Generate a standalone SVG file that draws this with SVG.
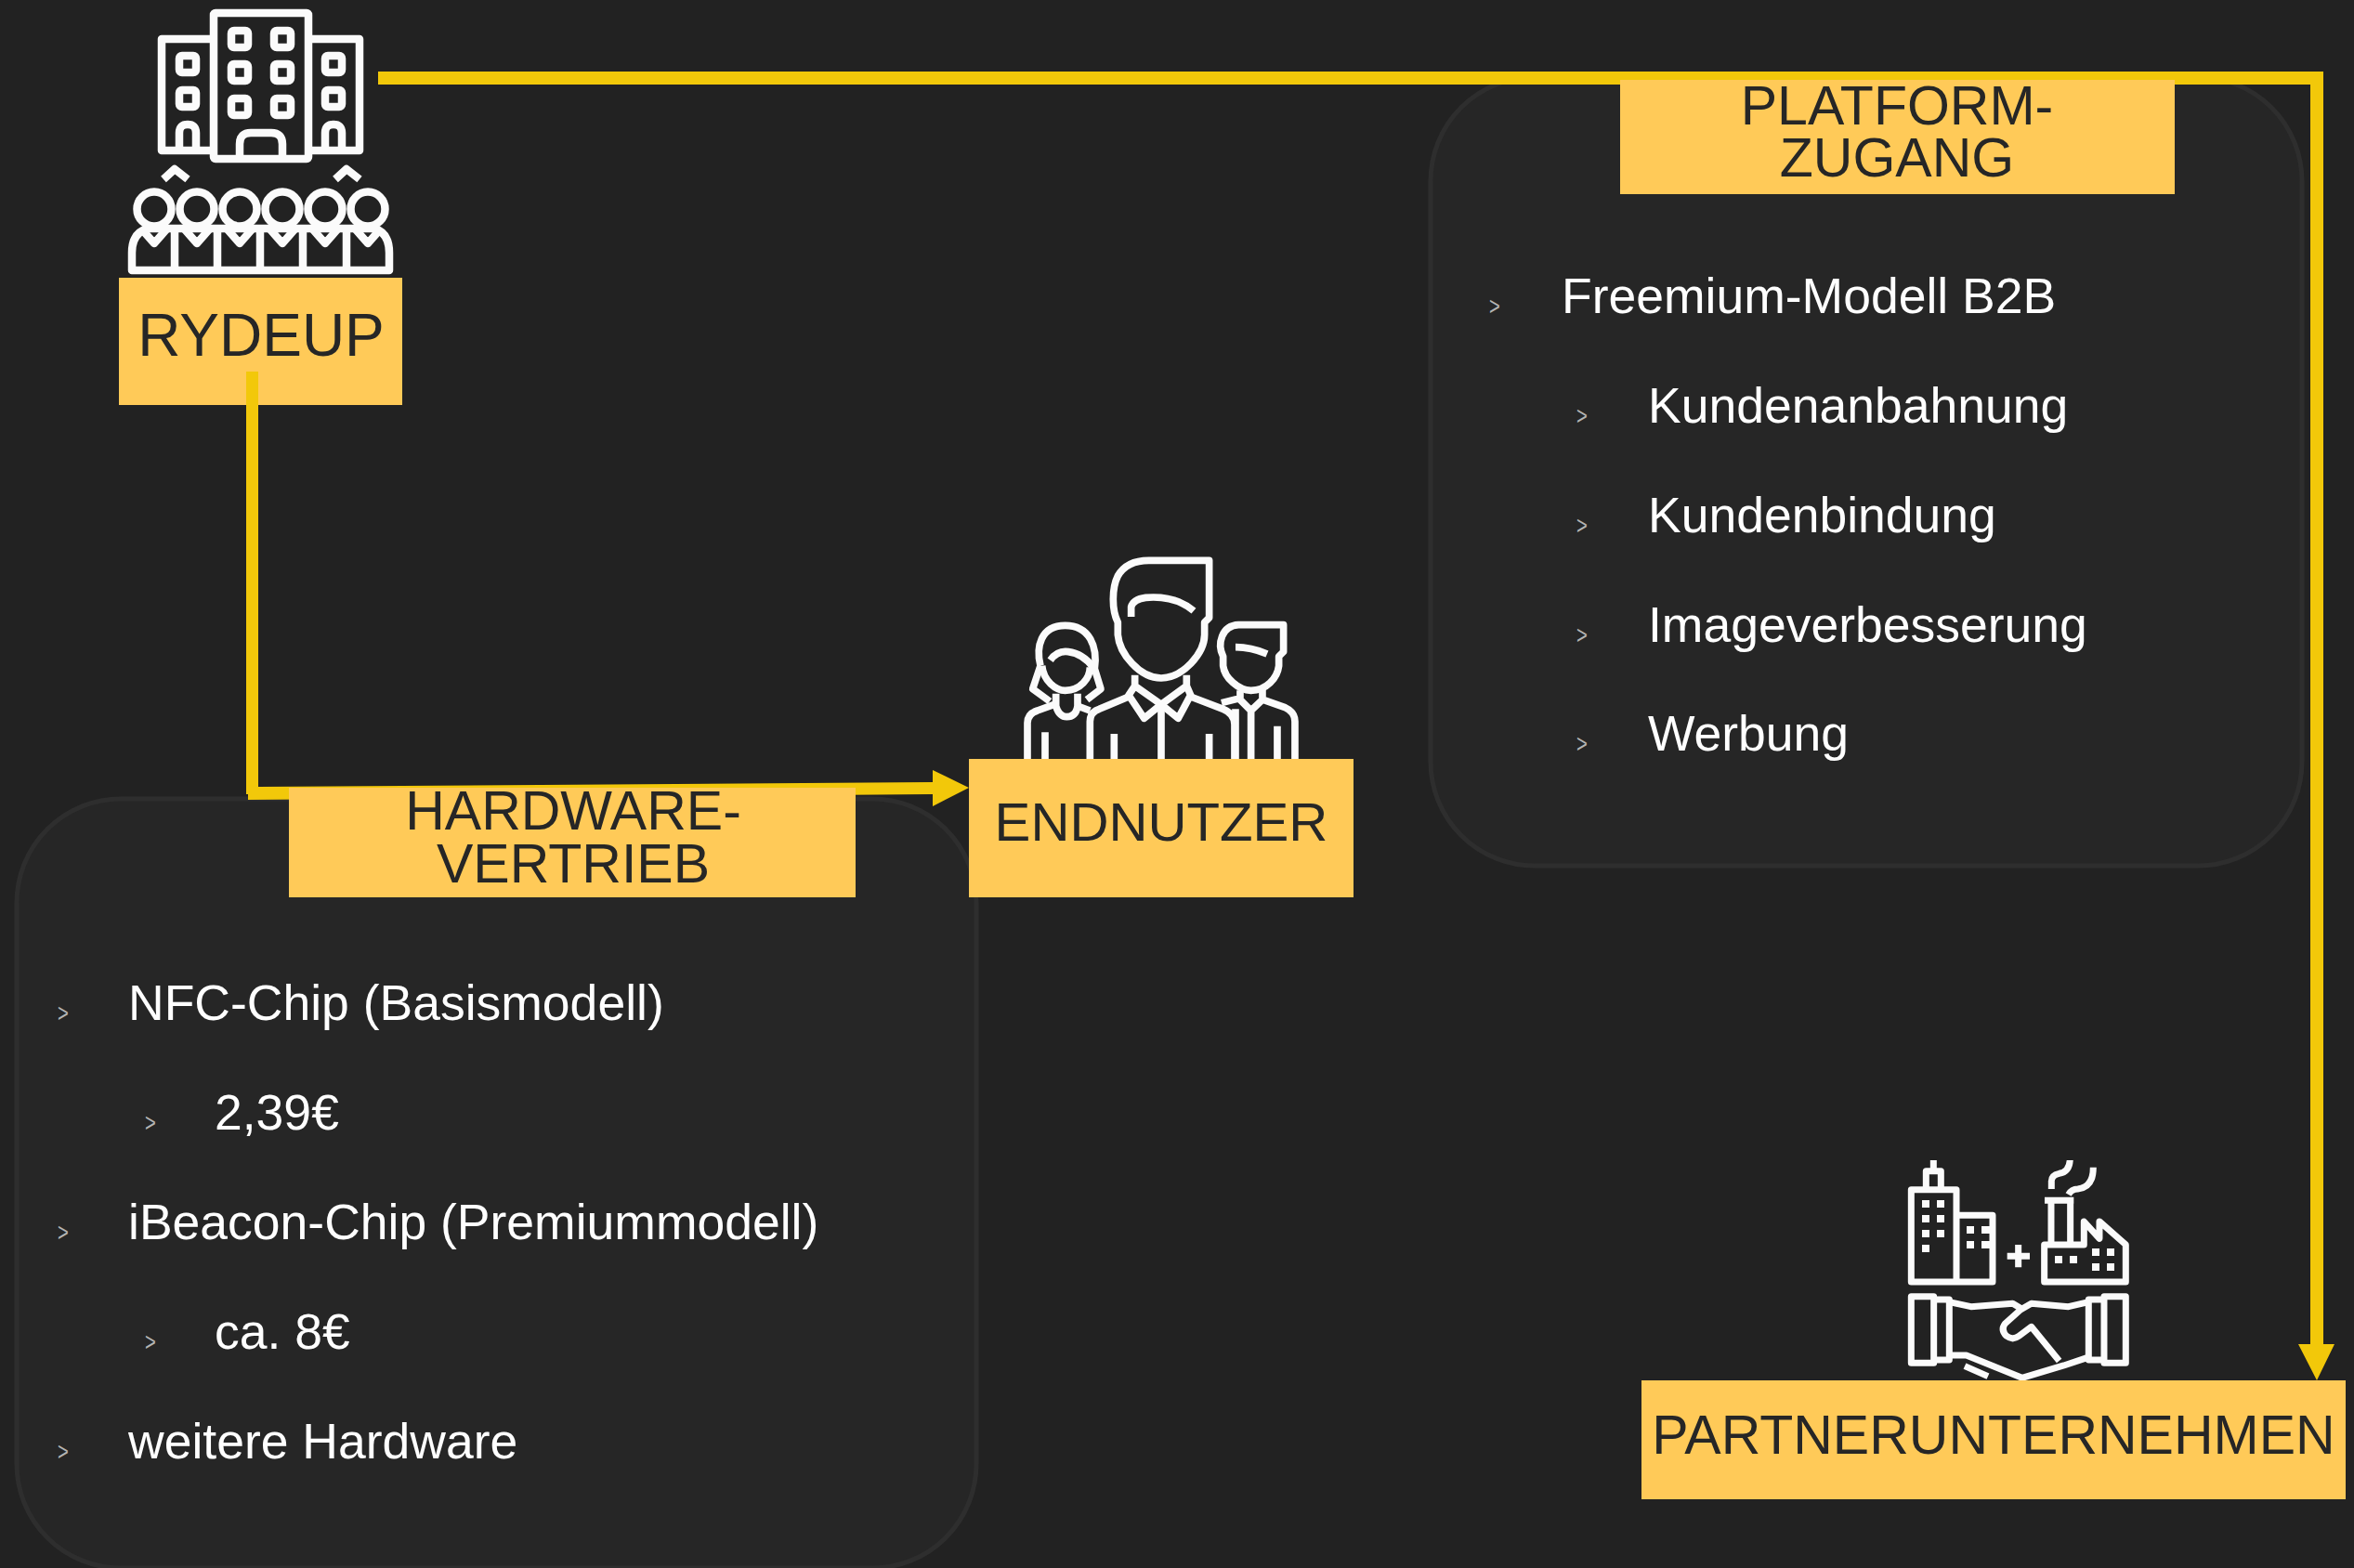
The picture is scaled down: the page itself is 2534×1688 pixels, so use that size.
<svg xmlns="http://www.w3.org/2000/svg" width="2534" height="1688" viewBox="0 0 2534 1688">
<defs>
<style>
text{font-family:"Liberation Sans",Arial,sans-serif}
.panel{fill:#262626;stroke:#2e2e2e;stroke-width:5}
.box{fill:#ffca58}
.lab{fill:#262626;text-anchor:middle}
.item{fill:#fff;font-size:53.5px}
.bul{fill:#b4b4b4;font-size:27px}
.ic{fill:none;stroke:#fbfbfb;stroke-linejoin:round;stroke-linecap:butt}
.w{fill:#fbfbfb;stroke:none}
.con{fill:#f2c80a;stroke:none}
</style>
<clipPath id="pc"><rect x="2050" y="1249" width="242" height="240"/></clipPath>
</defs>
<rect width="2534" height="1688" fill="#222"/>

<g id="panel-hardware">
<rect class="panel" x="18" y="860" width="1033" height="828" rx="112"/>
<text class="item" x="138" y="1098">NFC-Chip (Basismodell)</text>
<text class="item" x="231" y="1216">2,39€</text>
<text class="item" x="138" y="1334">iBeacon-Chip (Premiummodell)</text>
<text class="item" x="231" y="1452">ca. 8€</text>
<text class="item" x="138" y="1570">weitere Hardware</text>
<text class="bul" transform="translate(62,1100) scale(.75,1)">&gt;</text>
<text class="bul" transform="translate(156,1218) scale(.75,1)">&gt;</text>
<text class="bul" transform="translate(62,1336) scale(.75,1)">&gt;</text>
<text class="bul" transform="translate(156,1454) scale(.75,1)">&gt;</text>
<text class="bul" transform="translate(62,1572) scale(.75,1)">&gt;</text>
</g>

<g id="panel-platform">
<rect class="panel" x="1540" y="83" width="938" height="849" rx="112"/>
<text class="item" x="1681" y="337">Freemium-Modell B2B</text>
<text class="item" x="1774" y="455">Kundenanbahnung</text>
<text class="item" x="1774" y="573">Kundenbindung</text>
<text class="item" x="1774" y="691">Imageverbesserung</text>
<text class="item" x="1774" y="808">Werbung</text>
<text class="bul" transform="translate(1603,339) scale(.75,1)">&gt;</text>
<text class="bul" transform="translate(1697,457) scale(.75,1)">&gt;</text>
<text class="bul" transform="translate(1697,575) scale(.75,1)">&gt;</text>
<text class="bul" transform="translate(1697,693) scale(.75,1)">&gt;</text>
<text class="bul" transform="translate(1697,810) scale(.75,1)">&gt;</text>
</g>

<g id="node-rydeup">
<g class="ic" stroke-width="8.5">
<rect x="230" y="14" width="102" height="157" rx="2"/>
<path d="M230 42H174V162H230M332 42H387V162H332"/>
<rect x="249" y="33" width="18" height="18" rx="3"/><rect x="295" y="33" width="18" height="18" rx="3"/>
<rect x="249" y="69" width="18" height="18" rx="3"/><rect x="295" y="69" width="18" height="18" rx="3"/>
<rect x="249" y="106" width="18" height="18" rx="3"/><rect x="295" y="106" width="18" height="18" rx="3"/>
<rect x="193" y="60" width="18" height="18" rx="3"/><rect x="193" y="97" width="18" height="18" rx="3"/>
<rect x="350" y="60" width="18" height="18" rx="3"/><rect x="350" y="97" width="18" height="18" rx="3"/>
<path d="M258 171V155Q258 143 270 143H292Q304 143 304 155V171"/>
<path d="M193 162V143Q193 134 202 134Q211 134 211 143V162M350 162V143Q350 134 359 134Q368 134 368 143V162"/>
<path d="M176 193L188 182L202 193M361 193L373 182L387 193"/>
<circle cx="166" cy="225" r="18.5"/><circle cx="212" cy="225" r="18.5"/><circle cx="258" cy="225" r="18.5"/><circle cx="304" cy="225" r="18.5"/><circle cx="350" cy="225" r="18.5"/><circle cx="396" cy="225" r="18.5"/>
<path d="M142 291V272Q142 250 160 246H402Q419 250 419 272V291ZM188 246V291M234 246V291M280 246V291M326 246V291M373 246V291"/>
<path d="M152 246L166 262L180 246M198 246L212 262L226 246M244 246L258 262L272 246M290 246L304 262L318 246M336 246L350 262L364 246M382 246L396 262L410 246"/>
</g>
<rect class="box" x="128" y="299" width="305" height="137"/>
<text class="lab" x="281" y="383" font-size="64">RYDEUP</text>
</g>

<g id="node-endnutzer">
<g class="ic" stroke-width="23" transform="translate(1040,590) scale(.3333)">
<path d="M490 240C470 200 470 130 490 90C510 55 545 40 590 40H785V225L770 240V280C770 340 700 420 630 420C560 420 495 340 490 280Z"/>
<path d="M533 222V190Q540 165 580 160C640 155 690 165 735 203"/>
<path d="M545 410V445L525 475L575 550L630 505L685 550L725 475L712 445V410M545 445L630 505L712 445"/>
<path d="M400 690V560Q400 530 430 520L525 480M725 480L830 520Q867 535 867 570V690M630 505V690M478 600V690M785 600V690"/>
<path d="M240 380C225 320 240 250 320 250C400 250 425 320 415 390L435 455L390 490M240 380L215 455L270 495"/>
<path d="M245 380C250 430 290 460 320 460C370 460 400 420 400 385"/>
<path d="M272 362Q295 330 330 335C370 340 395 365 410 385"/>
<path d="M290 470V510Q300 545 325 545Q355 545 360 510V470"/>
<path d="M198 690V565Q198 535 230 525L285 505M360 510L400 525M255 595V690"/>
<path d="M830 350C810 310 825 250 880 248H1025V335L1010 350V380C1005 420 970 460 920 460C880 460 835 420 830 380Z"/>
<path d="M870 320Q920 320 972 342"/>
<path d="M885 460V490L920 525L957 490V455M920 525V690M960 490L1030 515Q1062 530 1062 560V690M825 500L885 485M870 520V690M1005 575V690"/>
</g>
<rect class="box" x="1043" y="817" width="414" height="149"/>
<text class="lab" x="1250" y="905" font-size="58.2">ENDNUTZER</text>
</g>

<g id="node-partner">
<g clip-path="url(#pc)">
<g class="ic" stroke-width="21" transform="translate(2030,1230) scale(.3333)">
<path d="M82 450V152H228V450ZM228 235H345V450H228M130 145V92H178V145M154 50V92"/>
<path d="M512 450V330H640V255L690 310V255L775 330V450ZM534 325V195M596 325V195M513 187H607"/>
<path d="M535 150V125Q535 105 560 100Q595 95 595 50M590 168Q600 150 620 150Q670 145 670 80"/>
<path d="M392 367H465M428 330V403"/>
<path d="M82 497H155V712H82ZM155 507H205V702H155M775 497H705V712H775ZM705 507H655V702H705"/>
<path d="M205 515L275 530L410 520L435 535M655 515L590 530L470 520L435 540L385 585Q370 605 390 625Q410 640 430 625L470 595L560 705M205 687H260L440 760L575 720L650 695M255 722L330 755"/>
</g>
<g class="w">
<rect x="2069" y="1292" width="8" height="8"/><rect x="2085" y="1292" width="8" height="8"/>
<rect x="2069" y="1308" width="8" height="8"/><rect x="2085" y="1308" width="8" height="8"/>
<rect x="2069" y="1324" width="8" height="8"/><rect x="2085" y="1324" width="8" height="8"/>
<rect x="2069" y="1340" width="8" height="8"/>
<rect x="2117" y="1320" width="8" height="8"/><rect x="2117" y="1336" width="8" height="8"/>
<rect x="2133" y="1320" width="9" height="8"/><rect x="2133" y="1336" width="9" height="8"/>
<rect x="2212" y="1352" width="8" height="8"/><rect x="2228" y="1352" width="8" height="8"/>
<rect x="2252" y="1344" width="8" height="8"/><rect x="2268" y="1344" width="8" height="8"/>
<rect x="2252" y="1360" width="8" height="8"/><rect x="2268" y="1360" width="8" height="8"/>
</g>
</g>
<rect class="box" x="1767" y="1486" width="758" height="128"/>
<text class="lab" x="2146" y="1565" font-size="59">PARTNERUNTERNEHMEN</text>
</g>

<g id="connectors">
<path class="con" d="M407 77H2501V1447H2513L2494 1486L2474 1447H2487V91H407Z"/>
<path class="con" d="M265 400H278V847L1004 842V829L1043 848L1004 868V855L267 861V855H265Z"/>
</g>

<g id="node-hardware">
<rect class="box" x="311" y="848" width="610" height="118"/>
<text class="lab" font-size="59"><tspan x="617" y="893">HARDWARE-</tspan><tspan x="617" y="950">VERTRIEB</tspan></text>
</g>

<g id="node-platform">
<rect class="box" x="1744" y="86" width="597" height="123"/>
<text class="lab" font-size="59"><tspan x="2042" y="134">PLATFORM-</tspan><tspan x="2042" y="190">ZUGANG</tspan></text>
</g>
</svg>
